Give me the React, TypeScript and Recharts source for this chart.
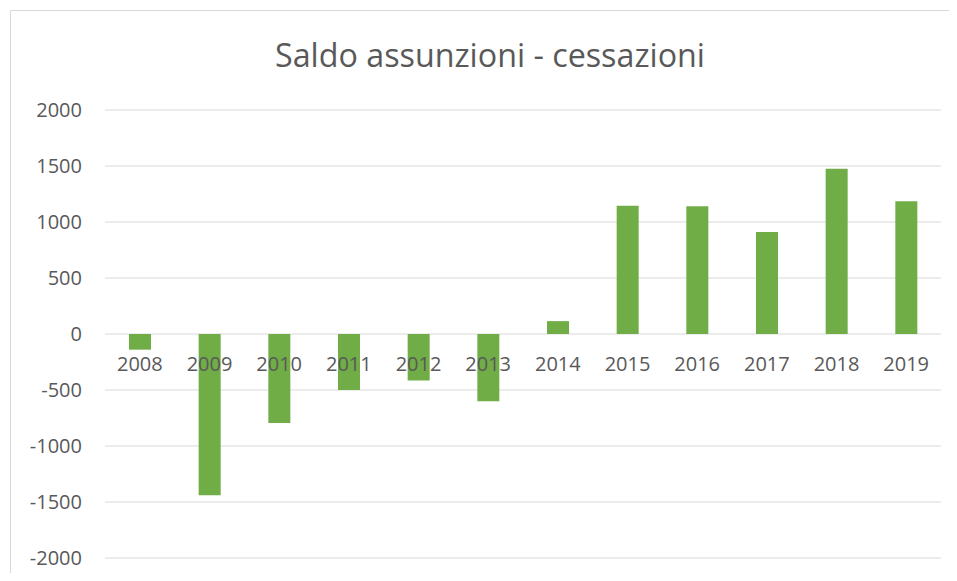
import React from "react";
import { BarChart, Bar, XAxis, YAxis, CartesianGrid } from "recharts";

// Saldo assunzioni - cessazioni, 2008-2019
const years = ["2008", "2009", "2010", "2011", "2012", "2013", "2014", "2015", "2016", "2017", "2018", "2019"];
const saldo = [-140, -1440, -795, -500, -415, -600, 115, 1145, 1140, 910, 1475, 1185];
const yTicks = [-2000, -1500, -1000, -500, 0, 500, 1000, 1500, 2000];

const W = 957;
const H = 581;
const X_AXIS_H = 20;
const M = { top: 110, right: 16, bottom: 23 - X_AXIS_H, left: 0 };
const PLOT_H = H - M.top - 23;
const TEXT = "#595959";
const FONT = "'Open Sans', sans-serif";

const data = years.map((y, i) => ({ year: y, value: saldo[i] }));

// category labels sit just under the zero line, like Excel's crossing axis
function YearTick(props: any) {
  const { x, y, payload } = props;
  return (
    <text x={x} y={y - PLOT_H / 2 + 37} textAnchor="middle" fill={TEXT} fontSize={20} fontFamily={FONT}>
      {payload.value}
    </text>
  );
}

export default function App() {
  return (
    <div style={{ position: "relative", width: W, height: H, margin: -8, overflow: "hidden", background: "#fff" }}>
      <svg width={W} height={H} style={{ position: "absolute", left: 0, top: 0 }}>
        {/* chart frame: only its top and left edges fall inside the picture */}
        <path d={`M10.5 ${H} V10.5 H${W}`} fill="none" stroke="#d9d9d9" strokeWidth={1} />
        <text
          x={490}
          y={67}
          textAnchor="middle"
          fill={TEXT}
          fontSize={33}
          fontFamily={FONT}
          textLength={430}
          lengthAdjust="spacingAndGlyphs"
        >
          Saldo assunzioni - cessazioni
        </text>
      </svg>
      <div style={{ position: "absolute", left: 0, top: 0 }}>
        <BarChart width={W} height={H} data={data} margin={M}>
          <CartesianGrid stroke="#d9d9d9" vertical={false} />
          <YAxis
            width={105}
            domain={[-2000, 2000]}
            ticks={yTicks}
            interval={0}
            axisLine={false}
            tickLine={false}
            tickSize={0}
            tickMargin={23}
            tick={{ fill: TEXT, fontSize: 20, fontFamily: FONT }}
          />
          <Bar dataKey="value" fill="#70ad47" barSize={22} isAnimationActive={false} />
          <XAxis
            dataKey="year"
            height={X_AXIS_H}
            axisLine={false}
            tickLine={false}
            tickSize={0}
            tickMargin={0}
            interval={0}
            tick={(p: any) => <YearTick {...p} />}
          />
        </BarChart>
      </div>
    </div>
  );
}
